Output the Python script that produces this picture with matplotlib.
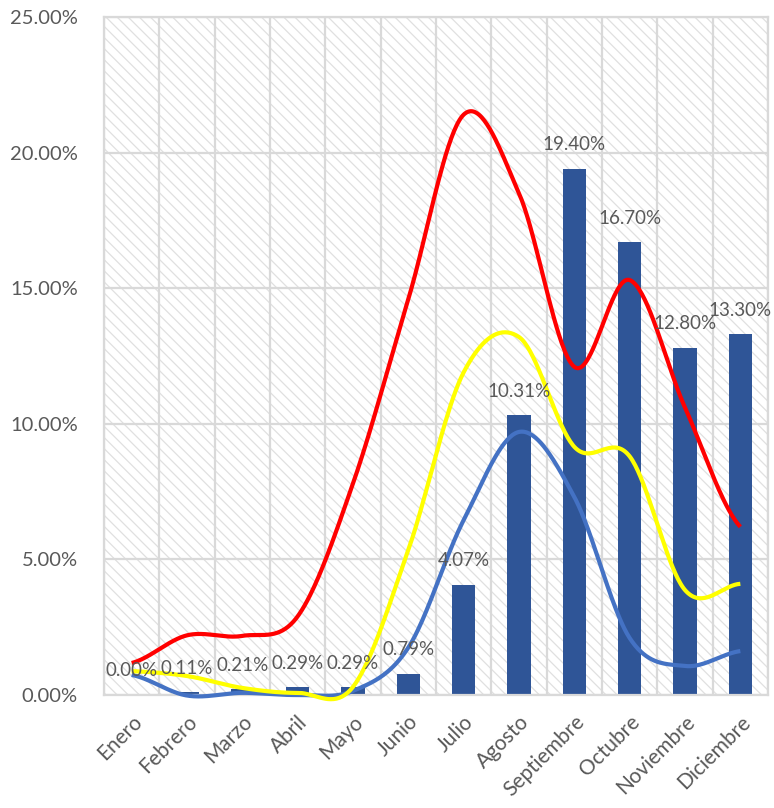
import numpy as np
import matplotlib
matplotlib.use("Agg")
import matplotlib.pyplot as plt
from matplotlib.patches import Rectangle
from matplotlib.ticker import FuncFormatter

months = ["Enero", "Febrero", "Marzo", "Abril", "Mayo", "Junio", "Julio",
          "Agosto", "Septiembre", "Octubre", "Noviembre", "Diciembre"]
bar_values = [0.00, 0.11, 0.21, 0.29, 0.29, 0.79, 4.07, 10.31, 19.40, 16.70, 12.80, 13.30]
red_values = [1.18, 2.2, 2.18, 2.9, 7.8, 14.6, 21.4, 18.5, 12.1, 15.3, 10.6, 6.2]
yellow_values = [0.88, 0.7, 0.26, 0.08, 0.3, 5.35, 11.9, 13.2, 9.15, 8.8, 3.87, 4.1]
blue_values = [0.74, -0.02, 0.08, 0.0, 0.15, 1.75, 6.45, 9.7, 7.3, 2.1, 1.07, 1.62]
y_ticks = [0, 5, 10, 15, 20, 25]

TXT = "#595959"
GRID = "#d9d9d9"
plt.rcParams['font.family'] = ['Lato', 'DejaVu Sans']
plt.rcParams['hatch.linewidth'] = 0.9


def smooth(y, n=40):
    y = np.asarray(y, float)
    N = len(y)
    m = np.zeros(N)
    m[1:-1] = (y[2:] - y[:-2]) / 2.0
    m[0] = (y[1] - y[0]) / 2.0
    m[-1] = (y[-1] - y[-2]) / 2.0
    xs, ys = [], []
    for i in range(N - 1):
        t = np.linspace(0, 1, n, endpoint=(i == N - 2))
        h00 = 2 * t**3 - 3 * t**2 + 1
        h10 = t**3 - 2 * t**2 + t
        h01 = -2 * t**3 + 3 * t**2
        h11 = t**3 - t**2
        xs.append(i + t)
        ys.append(h00 * y[i] + h10 * m[i] + h01 * y[i + 1] + h11 * m[i + 1])
    return np.concatenate(xs), np.concatenate(ys)


fig = plt.figure(figsize=(7.74, 8.08), dpi=100)
ax = fig.add_axes([104 / 774, 113 / 808, 664 / 774, 678 / 808])
ax.set_xlim(-0.5, len(months) - 0.5)
ax.set_ylim(0, 25)

bg = Rectangle((0, 0), 1, 1, transform=ax.transAxes, facecolor="white",
               edgecolor="#e0e0e0", hatch="\\\\\\", linewidth=0, zorder=0)
ax.add_patch(bg)

ax.set_yticks(y_ticks)
ax.yaxis.set_major_formatter(FuncFormatter(lambda v, p: f"{v:.2f}%"))
x = np.arange(len(months))
ax.set_xticks(x)
ax.set_xticks(np.arange(-0.5, len(months), 1), minor=True)
ax.set_xticklabels(months, rotation=45, ha="right", rotation_mode="anchor")
ax.tick_params(axis="both", which="both", length=0, colors=TXT, labelsize=15)
ax.tick_params(axis="y", labelsize=14.5, pad=19)
ax.tick_params(axis="x", pad=12)
ax.grid(axis="y", which="major", color=GRID, linewidth=1.6, zorder=1)
ax.grid(axis="x", which="minor", color=GRID, linewidth=1.6, zorder=1)
ax.grid(axis="x", which="major", visible=False)
ax.set_axisbelow(True)
for s in ax.spines.values():
    s.set_color(GRID)
    s.set_linewidth(1.6)

ax.bar(x, bar_values, width=0.42, color="#2F5597", zorder=2)
for xi, v in zip(x, bar_values):
    ax.annotate(f"{v:.2f}%", (xi, v), xytext=(0, 24), textcoords="offset pixels",
                ha="center", va="center", color=TXT, fontsize=13.5, zorder=5)

for vals, col in [(blue_values, "#4472C4"), (yellow_values, "#FFFF00"), (red_values, "#FF0000")]:
    sx, sy = smooth(vals)
    ax.plot(sx, sy, color=col, linewidth=3.0, solid_capstyle="butt", zorder=4, clip_on=False)

fig.savefig("out.png", dpi=100)
